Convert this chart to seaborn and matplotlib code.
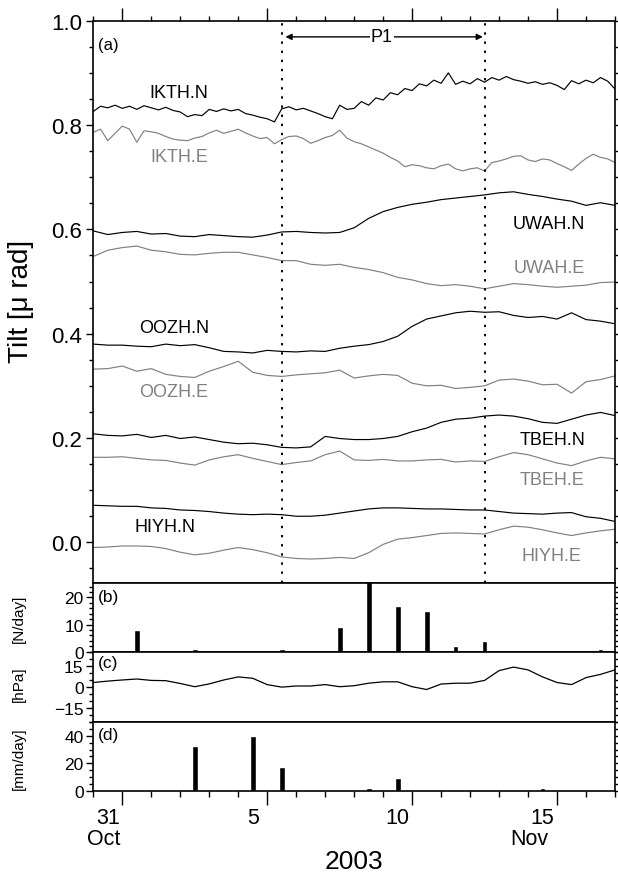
import numpy as np
import pandas as pd
import matplotlib
matplotlib.use("Agg")
import matplotlib.pyplot as plt
from matplotlib.ticker import MultipleLocator, FixedLocator
import seaborn as sns

sns.set_style("ticks")
plt.rcParams['font.family'] = ['Liberation Sans', 'DejaVu Sans']
plt.rcParams.update({"text.color": "black", "axes.edgecolor": "black",
                     "xtick.color": "black", "ytick.color": "black",
                     "axes.labelcolor": "black"})

# days since 31 Oct 2003 00:00
days_fine = np.arange(0, 18.001, 0.25)
days = np.arange(0, 18.001, 0.5)

ikth_n = [.826, .836, .833, .838, .832, .836, .830, .837, .833, .829, .834, .828,
          .825, .816, .820, .818, .830, .826, .831, .827, .830, .822, .819, .815,
          .812, .806, .831, .835, .829, .832, .827, .822, .816, .812, .838, .830,
          .832, .845, .838, .852, .848, .862, .858, .870, .866, .879, .875, .886,
          .880, .900, .878, .884, .879, .889, .882, .891, .886, .893, .887, .884,
          .880, .883, .878, .881, .876, .868, .885, .879, .886, .881, .891, .884, .869]
ikth_e = [.786, .792, .770, .784, .798, .792, .767, .789, .787, .784, .778, .773,
          .771, .770, .775, .778, .785, .790, .784, .788, .792, .785, .779, .774,
          .776, .764, .772, .778, .779, .774, .765, .770, .776, .780, .790, .775,
          .768, .764, .758, .752, .746, .738, .731, .720, .724, .722, .718, .716,
          .722, .725, .716, .712, .716, .718, .712, .728, .731, .735, .740, .741,
          .733, .730, .735, .733, .726, .720, .713, .725, .736, .744, .738, .735, .728]
uwah_n = [.597, .590, .594, .596, .591, .592, .587, .586, .590, .588, .586, .585,
          .589, .595, .596, .594, .593, .594, .603, .621, .634, .642, .648, .652,
          .657, .660, .663, .666, .670, .672, .667, .663, .658, .654, .646, .651, .646]
uwah_e = [.548, .560, .565, .568, .560, .557, .552, .551, .554, .556, .556, .551,
          .546, .540, .540, .533, .531, .533, .527, .523, .517, .508, .503, .496,
          .492, .494, .491, .486, .491, .496, .494, .491, .489, .491, .493, .498, .499]
oozh_n = [.380, .378, .378, .376, .375, .380, .377, .379, .373, .366, .365, .363,
          .368, .366, .365, .367, .366, .372, .376, .379, .385, .395, .414, .428,
          .434, .440, .443, .441, .442, .435, .431, .433, .428, .440, .427, .424, .419]
oozh_e = [.332, .333, .338, .328, .333, .322, .318, .316, .328, .337, .347, .326,
          .320, .318, .321, .323, .325, .330, .315, .319, .322, .320, .305, .300,
          .301, .295, .297, .300, .311, .313, .309, .302, .303, .286, .308, .312, .319]
tbeh_n = [.208, .205, .204, .207, .201, .205, .199, .202, .197, .192, .189, .190,
          .187, .182, .181, .183, .203, .199, .197, .197, .199, .203, .212, .219,
          .230, .236, .238, .242, .244, .242, .237, .230, .228, .236, .244, .249, .243]
tbeh_e = [.163, .163, .164, .161, .158, .157, .152, .148, .158, .164, .168, .161,
          .155, .149, .153, .156, .168, .175, .158, .157, .159, .156, .156, .158,
          .159, .154, .156, .155, .164, .172, .168, .160, .152, .147, .156, .163, .160]
hiyh_n = [.071, .070, .069, .069, .066, .065, .062, .061, .059, .056, .054, .053,
          .054, .053, .050, .050, .052, .056, .060, .064, .066, .066, .065, .064,
          .064, .063, .062, .062, .059, .056, .055, .054, .056, .057, .049, .046, .040]
hiyh_e = [-.010, -.009, -.007, -.007, -.008, -.012, -.019, -.024, -.021, -.015, -.010, -.014,
          -.020, -.028, -.031, -.032, -.031, -.029, -.031, -.020, -.004, .006, .009, .013,
          .017, .018, .017, .016, .024, .031, .029, .024, .018, .013, .018, .022, .025]

tilt_series = [
    ("IKTH.N", days_fine, ikth_n, "black", (2.95, 0.862)),
    ("IKTH.E", days_fine, ikth_e, "#808080", (2.95, 0.740)),
    ("UWAH.N", days, uwah_n, "black", (15.72, 0.612)),
    ("UWAH.E", days, uwah_e, "#808080", (15.72, 0.527)),
    ("OOZH.N", days, oozh_n, "black", (2.78, 0.411)),
    ("OOZH.E", days, oozh_e, "#808080", (2.78, 0.289)),
    ("TBEH.N", days, tbeh_n, "black", (15.84, 0.197)),
    ("TBEH.E", days, tbeh_e, "#808080", (15.84, 0.121)),
    ("HIYH.N", days, hiyh_n, "black", (2.48, 0.030)),
    ("HIYH.E", days, hiyh_e, "#808080", (15.82, -0.025)),
]

# (b) events per day
quake_days = [1.5, 3.5, 6.5, 8.5, 9.5, 10.5, 11.5, 12.5, 13.5, 17.5]
quake_n = [8, 1, 1, 9, 27, 17, 15, 2, 4, 1]

# (c) pressure
pressure = [3, 4, 4.8, 5.5, 4.5, 4.3, 2.3, 0, 2, 4.8, 7, 6, 1.5, -0.3, 0.5, 0.5,
            1.5, 0, 0.7, 2.5, 3.5, 3.5, 0, -2, 1.9, 2.5, 2.5, 4.5, 11.5, 14, 12, 7,
            3, 1.5, 6.5, 8.8, 12]

# (d) rainfall
rain_days = [2.5, 3.5, 5.5, 6.5, 9.5, 10.5, 11.5, 13.5, 15.5]
rain_mm = [0.5, 33, 40, 17, 2, 9, 0.5, 0.5, 2]

p1_start, p1_end = 6.5, 13.5
day_labels = [(0.5, "31"), (5.5, "5"), (10.5, "10"), (15.5, "15")]
month_labels = [(0.35, "Oct"), (15.05, "Nov")]

fig = plt.figure(figsize=(6.18, 8.78), dpi=100)
W, H = 618, 878
x0, x1 = 93.3, 615


def make_axes(top, bottom):
    return fig.add_axes([x0 / W, 1 - bottom / H, (x1 - x0) / W, (bottom - top) / H])


ax_a = make_axes(21.7, 584)
ax_b = make_axes(584, 652.7)
ax_c = make_axes(652.7, 722.7)
ax_d = make_axes(722.7, 791.7)

for name, x, y, col, (tx, ty) in tilt_series:
    sns.lineplot(x=x, y=y, color=col, lw=0.85, ax=ax_a)
    ax_a.text(tx, ty, name, color=col, fontsize=13, ha="center", va="center")

for xv in (p1_start, p1_end):
    ax_a.axvline(xv, color="black", ls=(0, (1.2, 3.5)), lw=1.4)
ax_a.annotate("", xy=(6.63, 0.969), xytext=(13.44, 0.969),
              arrowprops=dict(arrowstyle="<|-|>", color="black", lw=1, mutation_scale=9,
                              shrinkA=0, shrinkB=0))
ax_a.text(9.96, 0.969, "P1", fontsize=13, ha="center", va="center",
          bbox=dict(facecolor="white", edgecolor="none", pad=1))

sns.barplot(x=quake_days, y=quake_n, native_scale=True, width=0.2, color="black",
            errorbar=None, ax=ax_b, saturation=1)
sns.lineplot(x=days, y=pressure, color="black", lw=0.9, ax=ax_c)
sns.barplot(x=rain_days, y=rain_mm, native_scale=True, width=0.2, color="black",
            errorbar=None, ax=ax_d, saturation=1)

ax_a.set_ylim(-0.078, 1.0)
ax_a.yaxis.set_major_locator(MultipleLocator(0.2))
ax_a.yaxis.set_minor_locator(MultipleLocator(0.05))
ax_a.set_yticklabels([f"{v:.1f}" for v in ax_a.get_yticks()])
ax_b.set_ylim(0, 25.3)
ax_b.yaxis.set_major_locator(FixedLocator([0, 10, 20]))
ax_b.yaxis.set_minor_locator(MultipleLocator(2))
ax_c.set_ylim(-25, 25)
ax_c.yaxis.set_major_locator(FixedLocator([-15, 0, 15]))
ax_c.yaxis.set_minor_locator(MultipleLocator(5))
ax_d.set_ylim(0, 50.4)
ax_d.yaxis.set_major_locator(FixedLocator([0, 20, 40]))
ax_d.yaxis.set_minor_locator(MultipleLocator(5))

for ax in (ax_a, ax_b, ax_c, ax_d):
    ax.set_xlim(0, 18)
    ax.set_xlabel("")
    ax.set_ylabel("")
    for s in ax.spines.values():
        s.set_visible(True)
        s.set_linewidth(1.2)
        s.set_color("black")
    ax.xaxis.set_major_locator(FixedLocator([1, 6, 11, 16]))
    ax.xaxis.set_minor_locator(MultipleLocator(1))
    ax.tick_params(axis="x", which="both", bottom=False, top=False,
                   labelbottom=False, labeltop=False)
    ax.tick_params(axis="y", which="both", direction="out", left=True, right=True,
                   width=1, color="black", labelcolor="black")
    ax.tick_params(axis="y", which="major", length=5)
    ax.tick_params(axis="y", which="minor", length=3)
    ax.tick_params(axis="y", labelsize=12.5, pad=2)

ax_a.tick_params(axis="y", labelsize=16, pad=3)
ax_a.tick_params(axis="x", which="both", top=True, direction="out", width=1, color="black")
ax_a.tick_params(axis="x", which="major", length=9.5)
ax_a.tick_params(axis="x", which="minor", length=3.5)
ax_d.tick_params(axis="x", which="both", bottom=True, direction="out", width=1, color="black")
ax_d.tick_params(axis="x", which="major", length=10)
ax_d.tick_params(axis="x", which="minor", length=4)

for xv, lab in day_labels:
    ax_d.annotate(lab, xy=(xv, 0), xycoords=("data", "axes fraction"),
                  xytext=(0, -12), textcoords="offset points",
                  ha="center", va="top", fontsize=15.5)
for xv, lab in month_labels:
    ax_d.annotate(lab, xy=(xv, 0), xycoords=("data", "axes fraction"),
                  xytext=(0, -27), textcoords="offset points",
                  ha="center", va="top", fontsize=15.5)

ax_a.text(0.15, 0.955, "(a)", fontsize=12, va="center")
ax_b.text(0.15, 20.5, "(b)", fontsize=12.5, va="center")
ax_c.text(0.15, 17, "(c)", fontsize=12.5, va="center")
ax_d.text(0.15, 41, "(d)", fontsize=12.5, va="center")

fig.text(21 / W, 1 - 301 / H, "Tilt [\u03bc rad]", rotation=90, fontsize=20,
         ha="center", va="center")
fig.text(19 / W, 1 - 619 / H, "[N/day]", rotation=90, fontsize=11, ha="center", va="center")
fig.text(19 / W, 1 - 684 / H, "[hPa]", rotation=90, fontsize=11, ha="center", va="center")
fig.text(19 / W, 1 - 759 / H, "[mm/day]", rotation=90, fontsize=11, ha="center", va="center")
fig.text((x0 + x1) / 2 / W, 1 - 862 / H, "2003", fontsize=19, ha="center", va="center")

fig.savefig("out.png", dpi=100)
